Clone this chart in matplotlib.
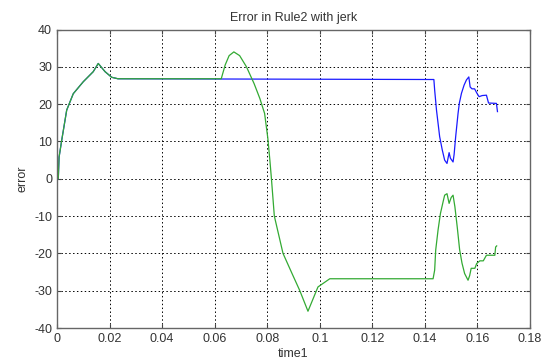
import matplotlib

matplotlib.use("Agg")
import matplotlib.pyplot as plt  # noqa: E402

plt.rcParams["font.family"] = ["Liberation Sans", "DejaVu Sans"]
plt.rcParams["axes.unicode_minus"] = False

# green trace (drawn on top)
green_t = [0.0, 0.0005, 0.0008, 0.0018, 0.0037, 0.0062, 0.010, 0.0138, 0.0157,
           0.0183, 0.0208, 0.0232, 0.0625, 0.0640, 0.0655, 0.0673, 0.0695,
           0.0721, 0.0750, 0.0772, 0.0790, 0.0802, 0.0810, 0.0816, 0.0827,
           0.0860, 0.0895, 0.0924, 0.0955, 0.0993, 0.1038, 0.1431, 0.1437,
           0.1441, 0.1450, 0.1459, 0.1469, 0.1475, 0.1484, 0.1492, 0.1500,
           0.1507, 0.1514, 0.1523, 0.1532, 0.1541, 0.1551, 0.1564, 0.1570,
           0.1576, 0.1590, 0.1597, 0.1609, 0.1622, 0.1634, 0.1666, 0.1669,
           0.1673]
green_v = [0.0, 0.0, 5.8, 10.3, 18.4, 22.8, 26.0, 28.7, 30.9,
           28.7, 27.2, 26.8, 26.8, 30.5, 33.0, 34.0, 33.0,
           30.0, 25.5, 21.5, 17.5, 11.0, 5.0, 0.0, -10.0,
           -20.0, -25.5, -30.0, -35.5, -29.0, -26.8, -26.8, -24.5,
           -19.1, -13.7, -9.3, -6.2, -4.4, -4.0, -6.6, -5.0,
           -4.4, -7.5, -13.0, -19.0, -22.6, -25.4, -27.2, -26.0,
           -24.0, -24.0, -22.7, -22.0, -22.0, -20.5, -20.5, -18.3,
           -18.0]

# blue trace
blue_t = [0.0, 0.0005, 0.0008, 0.0018, 0.0037, 0.0062, 0.010, 0.0138, 0.0157,
          0.0183, 0.0208, 0.0232, 0.1434, 0.1437, 0.1444, 0.1456, 0.1466,
          0.1475, 0.1484, 0.1492, 0.1497, 0.1507, 0.1511, 0.1517, 0.1526,
          0.1531, 0.1539, 0.1549, 0.1558, 0.1567, 0.1572, 0.1579, 0.1589,
          0.1598, 0.1606, 0.1618, 0.1634, 0.1642, 0.1672, 0.1676]
blue_v = [0.0, 0.0, 5.8, 10.3, 18.4, 22.8, 26.0, 28.7, 30.9,
          28.7, 27.2, 26.8, 26.6, 23.8, 18.4, 11.3, 7.7,
          5.0, 4.1, 7.0, 5.5, 4.5, 6.5, 11.3, 17.5,
          20.3, 22.9, 25.1, 26.5, 27.3, 24.6, 24.1, 24.1,
          22.9, 22.0, 22.3, 22.4, 20.3, 20.2, 18.0]

x_ticks = [0, 0.02, 0.04, 0.06, 0.08, 0.1, 0.12, 0.14, 0.16, 0.18]
x_labels = ["0", "0.02", "0.04", "0.06", "0.08", "0.1", "0.12", "0.14", "0.16", "0.18"]
y_ticks = [-40, -30, -20, -10, 0, 10, 20, 30, 40]

fig = plt.figure(figsize=(5.51, 3.63), dpi=100)
ax = fig.add_axes([0.1034, 0.0964, 0.8586, 0.8223])

ax.plot(blue_t, blue_v, color="#1a1aff", lw=0.9)
ax.plot(green_t, green_v, color="#33aa33", lw=0.9)

ax.set_xlim(0, 0.18)
ax.set_ylim(-40, 40)
ax.set_xticks(x_ticks)
ax.set_xticklabels(x_labels)
ax.set_yticks(y_ticks)
ax.set_yticklabels([str(v) for v in y_ticks])

ax.grid(True, color="black", linestyle=(0, (1.5, 2.5)), lw=0.7)
ax.tick_params(direction="in", top=True, right=True, length=3,
               labelsize=9, colors="#444444", labelcolor="#333333")
for s in ax.spines.values():
    s.set_color("#666666")
    s.set_linewidth(1.0)

ax.set_title("Error in Rule2 with jerk", fontsize=9, color="#333333", pad=6)
ax.set_xlabel("time1", fontsize=9, color="#333333", labelpad=2)
ax.set_ylabel("error", fontsize=9, color="#333333", labelpad=4)

fig.savefig("out.png", dpi=100)
plt.close(fig)
